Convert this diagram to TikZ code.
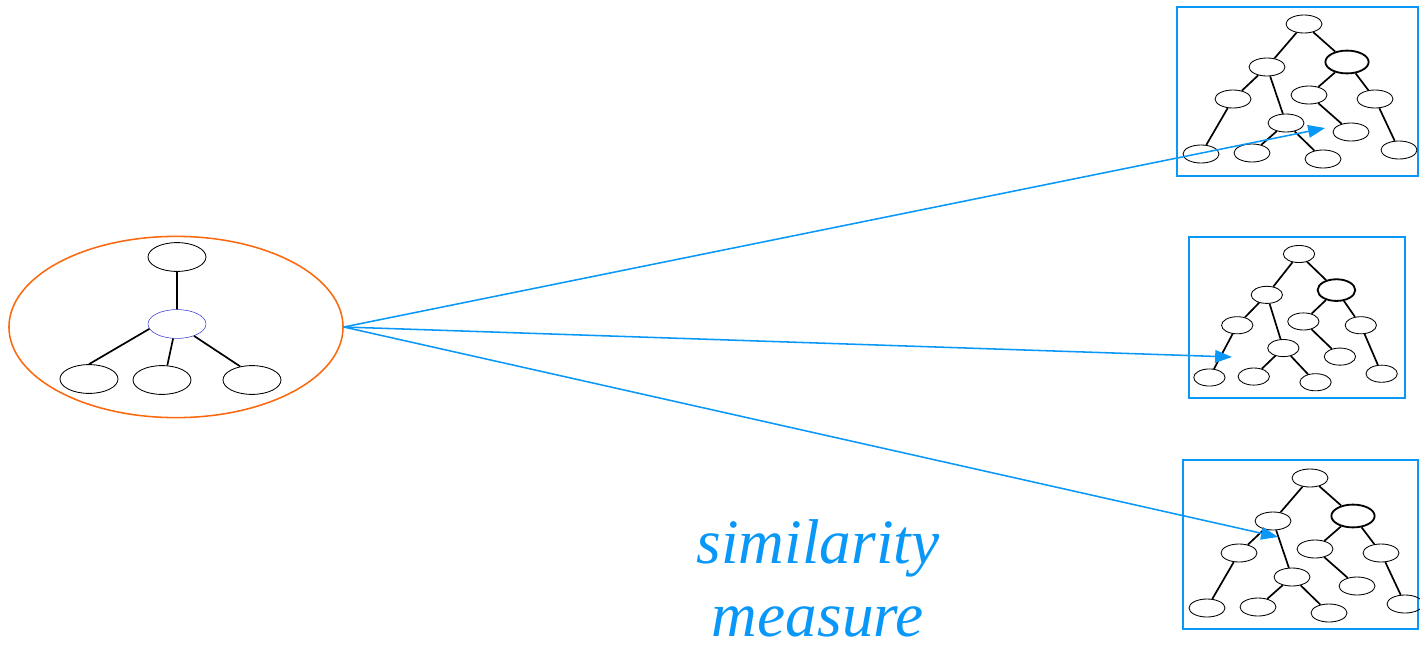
\documentclass[tikz,border=0pt]{standalone}
\usepackage{fontspec}
\setmainfont{Liberation Serif}
\usetikzlibrary{arrows.meta,shapes.geometric}
\definecolor{simblue}{RGB}{10,152,248}
\definecolor{qorange}{RGB}{250,105,15}
\definecolor{hubblue}{RGB}{60,60,215}

\tikzset{
  leaf/.style={draw,ellipse,line width=.6pt,minimum width=.9cm,minimum height=.45cm,inner sep=0pt},
  hub/.style={leaf,line width=1.3pt,minimum width=1.08cm,minimum height=.57cm},
  twig/.style={line width=1.2pt},
  qleaf/.style={draw,ellipse,line width=.6pt,minimum width=1.45cm,minimum height=.72cm,inner sep=0pt},
  treebox/.style={draw=simblue,line width=1.1pt},
  simarrow/.style={-{Triangle[length=12pt,width=9pt]},simblue,line width=1.1pt}
}

% one candidate tree, #1 = name prefix, #2 = scope options
\newcommand{\matchtree}[2]{%
  \begin{scope}[#2]
    \node[leaf] (#1r) at (0,0) {};
    \node[leaf] (#1a) at (-37,43) {};
    \node[hub]  (#1b) at (43,38) {};
    \node[leaf] (#1aa) at (-71,75) {};
    \node[leaf] (#1ab) at (-18,99) {};
    \node[leaf] (#1aaa) at (-103,130) {};
    \node[leaf] (#1aba) at (-52,129) {};
    \node[leaf] (#1abb) at (19,135) {};
    \node[leaf] (#1ba) at (5,71) {};
    \node[leaf] (#1bb) at (71,75) {};
    \node[leaf] (#1bab) at (47,108) {};
    \node[leaf] (#1bbb) at (95,126) {};
    \draw[twig] (#1r)--(#1a) (#1r)--(#1b) (#1a)--(#1aa) (#1a)--(#1ab)
      (#1aa)--(#1aaa) (#1ab)--(#1aba) (#1ab)--(#1abb)
      (#1b)--(#1ba) (#1b)--(#1bb) (#1ba)--(#1bab) (#1bb)--(#1bbb);
  \end{scope}}

\begin{document}
\begin{tikzpicture}[x=.025cm,y=-.025cm]
  \useasboundingbox (0,0) rectangle (1420,645);

  % query pattern
  \node[draw=qorange,ellipse,line width=1.1pt,minimum width=8.35cm,minimum height=4.53cm] (query) at (176,327) {};
  \node[qleaf] (qtop) at (177,257) {};
  \node[qleaf,draw=hubblue,line width=.4pt] (qhub) at (177,324) {};
  \node[qleaf] (qb1) at (89,379) {};
  \node[qleaf] (qb2) at (162,380) {};
  \node[qleaf] (qb3) at (252,380) {};
  \draw[twig] (qtop)--(qhub) (qhub.190)--(qb1.north) (qhub.255)--(qb2.70) (qhub.325)--(qb3.131);

  % candidate trees
  \draw[treebox] (1177,7) rectangle (1418,176);
  \draw[treebox] (1189,237) rectangle (1405,398);
  \draw[treebox] (1183,460) rectangle (1418,629);
  \matchtree{s}{shift={(1304,24)}}
  \matchtree{t}{shift={(1299,254)},xscale=.87,yscale=.95,transform shape}
  \matchtree{u}{shift={(1310,478)}}

  \coordinate (hit1) at (1325,128);
  \coordinate (hit2) at (1232,357);
  \coordinate (hit3) at (1278,537);
  \draw[simarrow] (query.east)--(hit1);
  \draw[simarrow] (query.east)--(hit2);
  \draw[simarrow] (query.east)--(hit3);

  \node[text=simblue,font=\fontsize{45}{52}\selectfont\itshape,align=center,inner sep=0pt,text depth=0pt,anchor=south] (simlabel) at (818,637) {similarity\\measure};
\end{tikzpicture}
\end{document}
